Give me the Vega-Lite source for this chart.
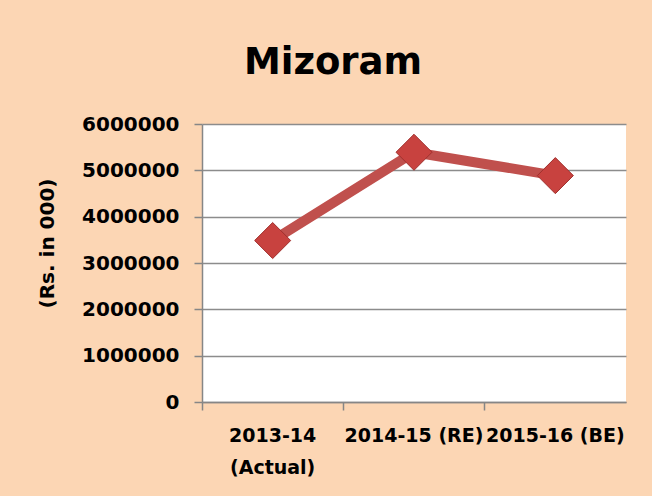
{
  "$schema": "https://vega.github.io/schema/vega-lite/v6.json",
  "width": 424,
  "height": 278,
  "autosize": "none",
  "padding": {"left": 202, "top": 124, "right": 26, "bottom": 94},
  "background": "#FCD6B4",
  "title": {
    "text": "Mizoram",
    "font": "DejaVu Sans",
    "fontSize": 37,
    "fontWeight": "bold",
    "color": "#000000",
    "anchor": "middle",
    "dx": -81,
    "baseline": "alphabetic",
    "offset": 3
  },
  "data": {
    "values": [
      {"year": "2013-14 (Actual)", "value": 3485000},
      {"year": "2014-15 (RE)", "value": 5390000},
      {"year": "2015-16 (BE)", "value": 4886000}
    ]
  },
  "encoding": {
    "x": {
      "field": "year",
      "type": "nominal",
      "sort": null,
      "scale": {"type": "band", "paddingInner": 0, "paddingOuter": 0},
      "axis": {
        "title": null,
        "labelAngle": 0,
        "bandPosition": 0,
        "labelExpr": "datum.label == '2013-14 (Actual)' ? ['2013-14', '(Actual)'] : datum.label",
        "labelFont": "DejaVu Sans",
        "labelFontSize": 19,
        "labelFontWeight": "bold",
        "labelColor": "#000000",
        "labelLineHeight": 32,
        "labelPadding": 16,
        "labelBaseline": "top",
        "labelOverlap": false,
        "tickSize": 8,
        "tickColor": "#868686",
        "tickWidth": 1.5,
        "domainColor": "#868686",
        "domainWidth": 1.5,
        "grid": false
      }
    },
    "y": {
      "field": "value",
      "type": "quantitative",
      "scale": {"domain": [0, 6000000], "nice": false},
      "axis": {
        "title": "(Rs. in 000)",
        "titleFont": "DejaVu Sans",
        "titleFontSize": 20,
        "titleFontWeight": "bold",
        "titleColor": "#000000",
        "titleX": -145,
        "titleY": 119,
        "titleAngle": -90,
        "titleBaseline": "bottom",
        "values": [0, 1000000, 2000000, 3000000, 4000000, 5000000, 6000000],
        "format": "d",
        "labelFont": "DejaVu Sans",
        "labelFontSize": 20,
        "labelFontWeight": "bold",
        "labelColor": "#000000",
        "labelPadding": 15,
        "tickSize": 8,
        "tickColor": "#868686",
        "tickWidth": 1.5,
        "domainColor": "#868686",
        "domainWidth": 1.5,
        "grid": true,
        "gridColor": "#8C8C8C",
        "gridWidth": 1.5
      }
    }
  },
  "layer": [
    {
      "mark": {"type": "line", "color": "#C0504D", "strokeWidth": 10}
    },
    {
      "mark": {
        "type": "point",
        "shape": "diamond",
        "size": 1300,
        "filled": true,
        "fill": "#C8423F",
        "stroke": "#A0302D",
        "strokeWidth": 1,
        "opacity": 1
      }
    }
  ],
  "config": {
    "view": {"fill": "#FFFFFF", "stroke": null}
  }
}
